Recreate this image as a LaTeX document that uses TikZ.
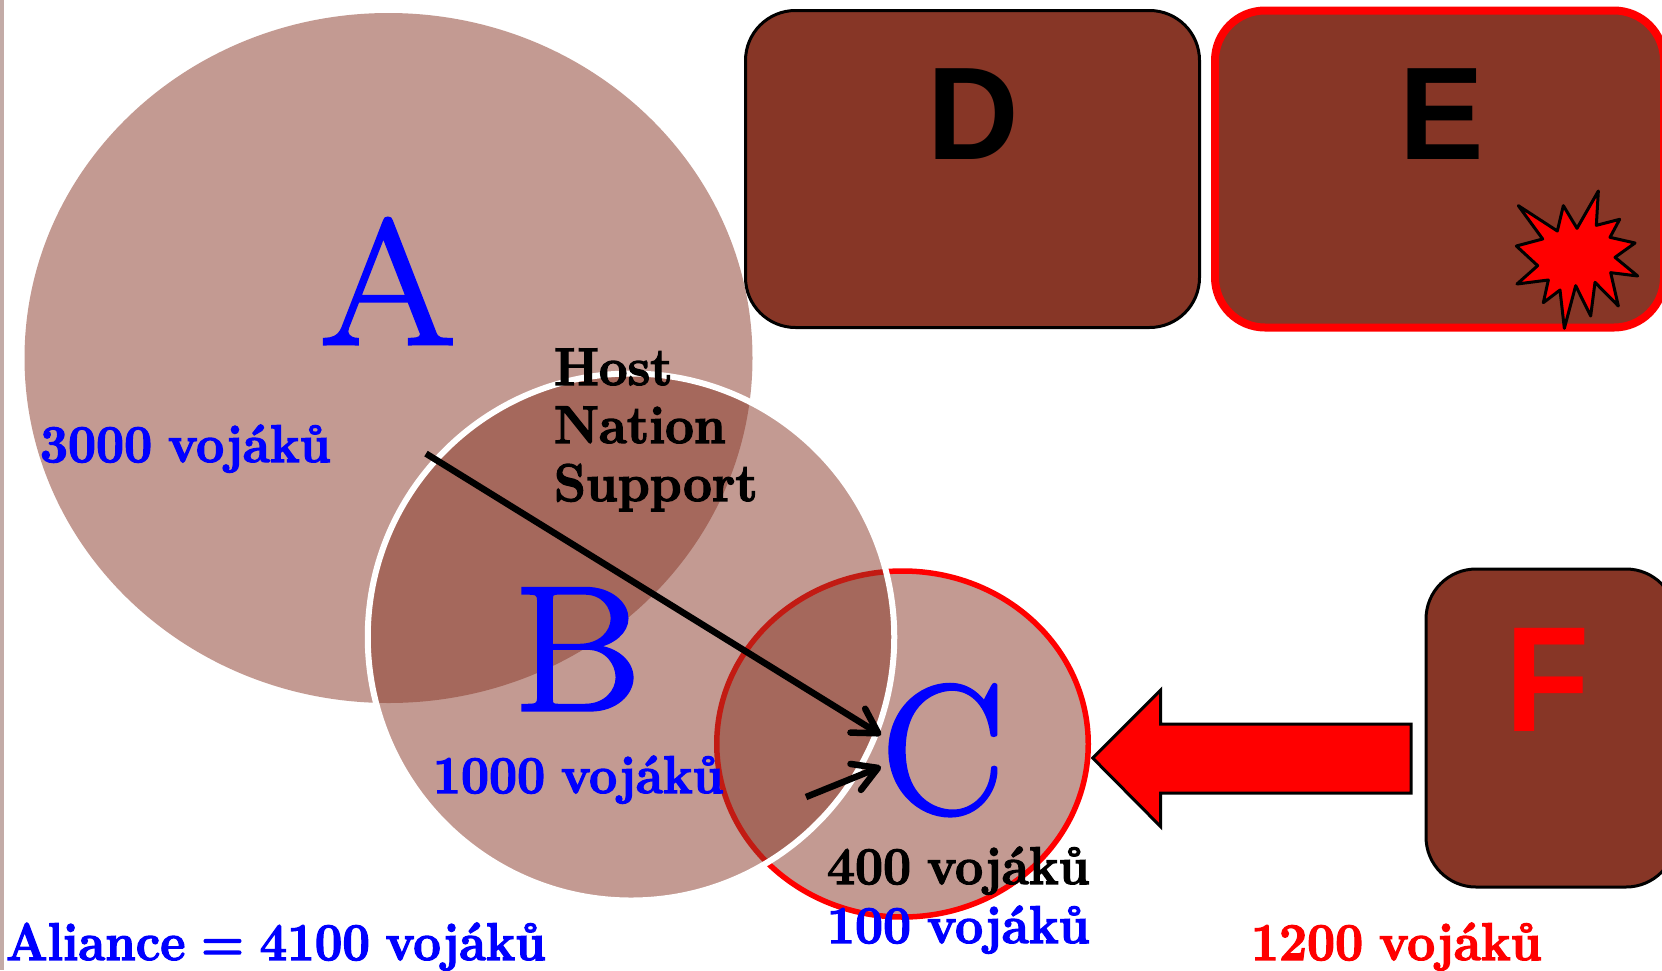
\documentclass[tikz,border=0pt]{standalone}
\usepackage{fontspec}
\usetikzlibrary{shapes.geometric,arrows.meta}
\newfontfamily\boxfont{Liberation Sans}
\newfontfamily\lblf{Latin Modern Roman}[WordSpace=0.85,BoldFeatures={FakeBold=2.5}]
\newfontfamily\bigf{Latin Modern Roman}[FakeBold=1.8]
\definecolor{boxbrown}{HTML}{873626}
\definecolor{sidebar}{HTML}{C3ABA7}
\newcommand{\lblfont}[2][0.94]{\scalebox{#1}[1]{\lblf\fontsize{53pt}{53pt}\selectfont\bfseries #2}}
\newcommand{\wide}[2][1.1]{\scalebox{#1}[1]{#2}}
\tikzset{
  blob/.style={ellipse,inner sep=0pt,outer sep=0pt,fill=boxbrown,fill opacity=0.5,draw opacity=1},
  roundbox/.style={rectangle,rounded corners=50pt,inner sep=0pt,outer sep=0pt,fill=boxbrown},
  lbl/.style={anchor=base west,inner sep=0pt,outer sep=0pt},
  bigletter/.style={anchor=base,inner sep=0pt,outer sep=0pt,text=blue,font=\bigf\fontsize{178pt}{178pt}\selectfont},
  boxletter/.style={anchor=base,inner sep=0pt,outer sep=0pt,font=\boxfont\fontsize{132pt}{132pt}\selectfont\bfseries},
  conn/.style={line width=6.5pt,-{Straight Barb[length=24pt,width=28pt,line width=6.5pt,round]}},
  shapeline/.style={draw=black,line width=3pt,line join=miter,fill=red}
}
\begin{document}
\begin{tikzpicture}[x=1pt,y=-1pt]
\useasboundingbox (0,0) rectangle (1662,970);
\clip (0,0) rectangle (1662,970);
\fill[sidebar] (0,0) rectangle (4,970);
% ellipses
\node[blob,minimum width=728pt,minimum height=690pt] (ea) at (388.5,358) {};
\node[blob,draw=red,line width=5.5pt,minimum width=371.5pt,minimum height=346pt] (ec) at (902.5,744) {};
\node[blob,draw=white,line width=6pt,minimum width=526.5pt,minimum height=527pt] (eb) at (631,637) {};
% boxes
\node[roundbox,draw=black,line width=3pt,minimum width=454pt,minimum height=317pt] (bd) at (972.5,169) {};
\node[roundbox,draw=red,line width=8pt,minimum width=449pt,minimum height=317pt] (be) at (1439.5,169) {};
\node[roundbox,draw=black,line width=3pt,minimum width=250pt,minimum height=318pt] (bf) at (1551,728) {};
% big letters
\node[bigletter] (la) at (388,344) {\wide{A}};
\node[bigletter] (lb) at (577,710) {\wide{B}};
\node[bigletter,font=\bigf\fontsize{184pt}{184pt}\selectfont] (lc) at (943,813) {C};
\node[boxletter,text=black] (ld) at (973,159) {\wide[0.96]{D}};
\node[boxletter,text=black] (le) at (1442,159) {\wide[0.96]{E}};
\node[boxletter,text=red,font=\boxfont\fontsize{150pt}{150pt}\selectfont\bfseries] (lf) at (1548,731) {\wide[0.92]{F}};
% labels
\node[lbl,text=blue] (t3000) at (40,462) {\lblfont{3000 vojáků}};
\node[lbl,text=blue] (t1000) at (433,793) {\lblfont{1000 vojáků}};
\node[lbl,text=black] (t400) at (827,884) {\lblfont{400 vojáků}};
\node[lbl,text=blue] (t100) at (827,943) {\lblfont{100 vojáků}};
\node[lbl,text=blue] (tal) at (6,960) {\lblfont[0.925]{Aliance = 4100 vojáků}};
\node[lbl,text=red] (t1200) at (1251,960) {\lblfont{1200 vojáků}};
\node[lbl,text=black] (th1) at (554,385) {\lblfont[0.963]{Host}};
\node[lbl,text=black] (th2) at (554,443) {\lblfont[0.963]{Nation}};
\node[lbl,text=black] (th3) at (554,501) {\lblfont[0.963]{Support}};
% connectors
\coordinate (c1s) at (426,453.6);
\coordinate (c1e) at (881,735);
\coordinate (c2s) at (806,797);
\coordinate (c2e) at (881,766.7);
\draw[conn] (c1s) -- (c1e);
\draw[conn] (c2s) -- (c2e);
% block arrow
\draw[shapeline] (1092.7,758) -- (1160.7,690) -- (1160.7,724) -- (1411,724) -- (1411,793) -- (1160.7,793) -- (1160.7,826.7) -- cycle;
% star
\begin{scope}[shift={(1400,0)},x=0.33333pt,y=-0.33333pt]
\draw[shapeline,line join=round] (355,617)--(472,693)--(490,617)--(531,685)--(595,573)--(589,676)--(659,658)--(630,712)--(705,729)--(645,772)--(713,828)--(632,818)--(655,918)--(585,847)--(572,948)--(527,857)--(493,985)--(480,870)--(430,908)--(445,840)--(351,852)--(413,797)--(349,738)--(428,717)--cycle;
\end{scope}
\end{tikzpicture}
\end{document}
